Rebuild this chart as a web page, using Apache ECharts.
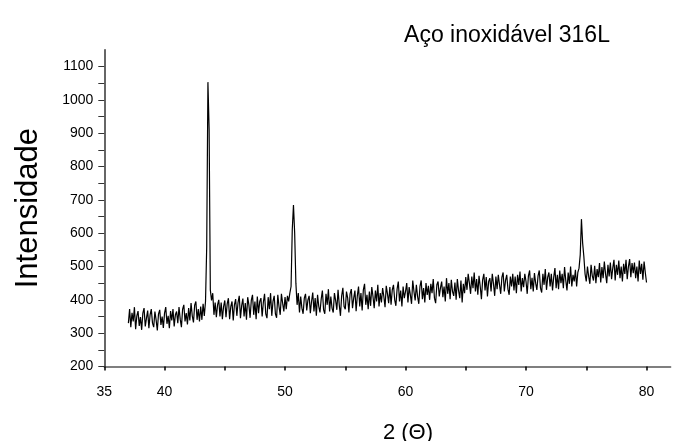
<!DOCTYPE html>
<html>
<head>
<meta charset="utf-8">
<script src="https://cdn.jsdelivr.net/npm/echarts@6/dist/echarts.min.js"></script>
<style>
html,body{margin:0;padding:0;background:#fff;}
#chart{width:676px;height:441px;}
</style>
</head>
<body>
<div id="chart"></div>
<script>
// Scan grid (2θ, degrees)
var scanStart = 37.0;
var scanStep = 0.1;

// Intensity readings, one row per degree (37.0 … 80.0)
var intensity = [].concat(
  [330, 372, 318, 361, 335, 378, 312, 352, 366, 322], // 37
  [348, 310, 360, 375, 320, 345, 368, 315, 355, 372], // 38
  [330, 318, 365, 340, 308, 358, 370, 325, 350, 316], // 39
  [360, 378, 328, 352, 315, 366, 338, 372, 320, 355], // 40
  [365, 330, 378, 342, 318, 372, 385, 335, 360, 326], // 41
  [375, 338, 390, 352, 332, 384, 395, 340, 372, 335], // 42
  [380, 340, 388, 352, 395, 560, 1053, 910, 430, 398], // 43
  [420, 355, 392, 348, 385, 400, 350, 392, 342, 380], // 44
  [398, 348, 388, 405, 342, 380, 395, 338, 385, 402], // 45
  [352, 392, 412, 345, 382, 404, 350, 390, 340, 408], // 46
  [385, 346, 398, 415, 355, 395, 342, 410, 360, 395], // 47
  [405, 350, 392, 418, 358, 345, 408, 372, 420, 352], // 48
  [395, 412, 358, 346, 415, 380, 355, 418, 390, 365], // 49
  [408, 372, 412, 395, 420, 440, 610, 684, 600, 450], // 50
  [385, 420, 362, 410, 375, 358, 405, 418, 368, 400], // 51
  [412, 360, 395, 422, 365, 405, 352, 415, 380, 362], // 52
  [402, 428, 370, 358, 418, 385, 432, 365, 410, 375], // 53
  [362, 420, 398, 370, 430, 385, 352, 412, 436, 380], // 54
  [372, 425, 405, 362, 418, 432, 375, 405, 428, 366], // 55
  [412, 440, 380, 420, 368, 430, 448, 385, 415, 372], // 56
  [425, 382, 438, 410, 375, 428, 395, 445, 380, 420], // 57
  [392, 435, 410, 378, 442, 418, 390, 438, 385, 430], // 58
  [445, 400, 382, 432, 455, 395, 428, 380, 440, 405], // 59
  [425, 450, 392, 438, 415, 388, 458, 425, 398, 445], // 60
  [410, 388, 440, 458, 402, 435, 392, 450, 415, 442], // 61
  [400, 448, 420, 462, 405, 390, 445, 455, 410, 436], // 62
  [455, 408, 440, 395, 465, 418, 450, 402, 460, 425], // 63
  [412, 452, 400, 462, 428, 405, 458, 392, 448, 420], // 64
  [468, 430, 478, 450, 418, 470, 435, 482, 425, 462], // 65
  [415, 472, 440, 402, 460, 478, 428, 468, 410, 455], // 66
  [465, 425, 478, 448, 412, 470, 432, 475, 445, 418], // 67
  [468, 482, 425, 458, 475, 432, 415, 470, 440, 478], // 68
  [428, 470, 420, 475, 445, 485, 425, 465, 438, 478], // 69
  [455, 418, 472, 488, 432, 466, 425, 480, 450, 430], // 70
  [472, 488, 435, 422, 478, 445, 492, 430, 468, 482], // 71
  [440, 478, 428, 468, 495, 435, 475, 432, 488, 450], // 72
  [478, 435, 498, 458, 428, 482, 448, 500, 440, 475], // 73
  [455, 490, 440, 482, 495, 535, 642, 570, 530, 478], // 74
  [455, 500, 470, 448, 505, 472, 458, 502, 450, 492], // 75
  [468, 510, 452, 498, 465, 515, 478, 450, 505, 470], // 76
  [512, 462, 495, 520, 458, 505, 475, 518, 465, 500], // 77
  [455, 508, 478, 520, 462, 500, 522, 468, 510, 480], // 78
  [512, 465, 500, 455, 518, 478, 508, 460, 515, 482], // 79
  [452]                                               // 80
);

var xTickValues = [35, 40, 45, 50, 55, 60, 65, 70, 75, 80];
var xLabelValues = [35, 40, 50, 60, 70, 80];
var yTickValues = [200, 250, 300, 350, 400, 450, 500, 550, 600, 650, 700, 750, 800, 850, 900, 950, 1000, 1050, 1100];
var yLabelValues = [200, 300, 400, 500, 600, 700, 800, 900, 1000, 1100];

var titleText = 'Aço inoxidável 316L';
var xName = '2 (\u0398)';
var yName = 'Intensidade';

var points = intensity.map(function (v, i) {
  return [+(scanStart + i * scanStep).toFixed(2), v];
});

var FONT = '"Liberation Sans", Arial, sans-serif';
var chart = echarts.init(document.getElementById('chart'), null, {renderer: 'canvas'});
chart.setOption({
  animation: false,
  backgroundColor: '#fff',
  title: [
    {text: titleText, left: 502, top: 19, textAlign: 'center',
     textStyle: {fontFamily: FONT, fontSize: 23, fontWeight: 'normal', color: '#000'}},
    {text: xName, left: 403, top: 417, textAlign: 'center',
     textStyle: {fontFamily: FONT, fontSize: 22, fontWeight: 'normal', color: '#000'}}
  ],
  grid: {left: 104.3, right: 5.4, top: 49.8, bottom: 74.5, containLabel: false},
  xAxis: {
    type: 'value', min: 35, max: 82, interval: 5,
    splitLine: {show: false},
    axisLine: {show: true, onZero: false, lineStyle: {color: '#555', width: 1.5}},
    axisTick: {show: true, inside: false, length: 4, customValues: xTickValues,
               lineStyle: {color: '#000', width: 1.5}},
    axisLabel: {customValues: xLabelValues, margin: 19, fontFamily: FONT, fontSize: 14, color: '#000',
                formatter: function (v) { return String(v); }}
  },
  yAxis: {
    type: 'value', min: 200, max: 1150, interval: 100,
    name: yName, nameLocation: 'middle', nameGap: 60,
    nameTextStyle: {fontFamily: FONT, fontSize: 31, color: '#000'},
    splitLine: {show: false},
    axisLine: {show: true, onZero: false, lineStyle: {color: '#333', width: 1.5}},
    axisTick: {show: true, inside: false, length: 6, customValues: yTickValues,
               lineStyle: {color: '#333', width: 1}},
    axisLabel: {customValues: yLabelValues, margin: 11, fontFamily: FONT, fontSize: 14, color: '#000',
                formatter: function (v) { return String(v); }}
  },
  series: [{
    type: 'line', data: points, showSymbol: false, symbol: 'none',
    lineStyle: {color: '#000', width: 1.2}, silent: true
  }]
});
</script>
</body>
</html>
